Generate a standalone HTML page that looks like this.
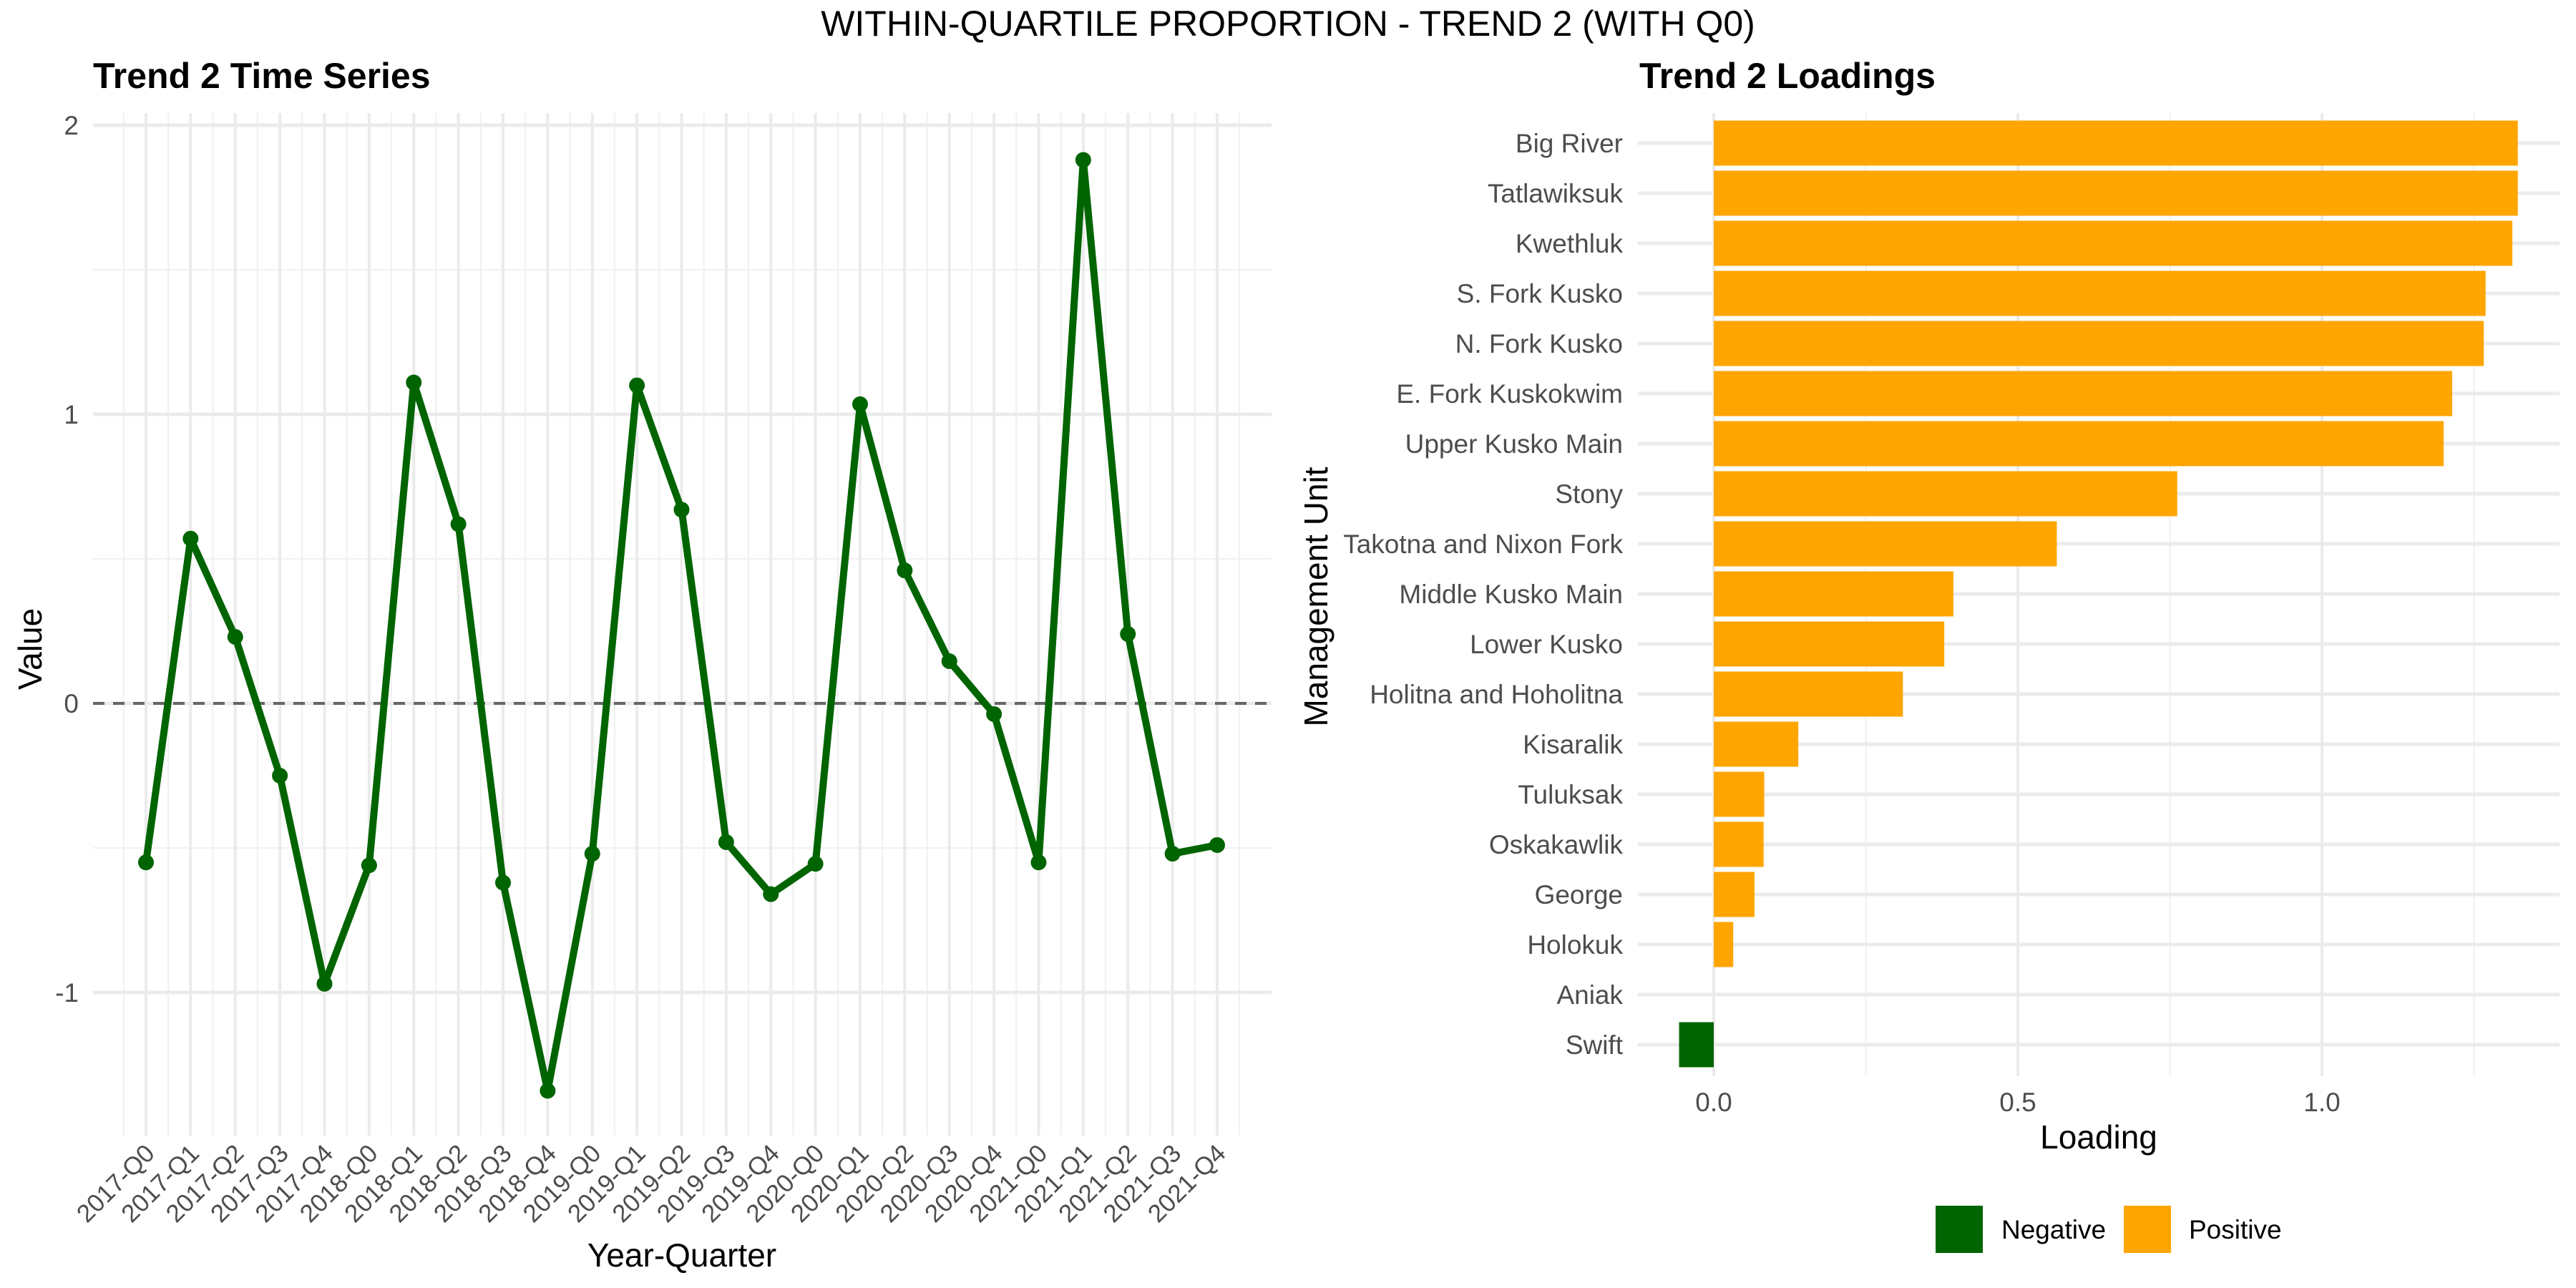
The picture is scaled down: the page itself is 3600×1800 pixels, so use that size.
<!DOCTYPE html>
<html><head><meta charset="utf-8"><style>
html,body{margin:0;padding:0;background:#fff;}
svg{display:block;font-family:"Liberation Sans",sans-serif;}
</style></head><body>
<svg id="chart" width="3600" height="1800" viewBox="0 0 3600 1800">
<text x="1800" y="50" text-anchor="middle" font-size="50" fill="#000">WITHIN-QUARTILE PROPORTION - TREND 2 (WITH Q0)</text>
<text x="130" y="123" font-size="50" font-weight="bold" fill="#000">Trend 2 Time Series</text>
<text x="2291" y="123" font-size="50" font-weight="bold" fill="#000">Trend 2 Loadings</text>
<g id="left"></g>
<g id="right"></g>
</svg>
<script>
const quarters = ["2017-Q0","2017-Q1","2017-Q2","2017-Q3","2017-Q4","2018-Q0","2018-Q1","2018-Q2","2018-Q3","2018-Q4","2019-Q0","2019-Q1","2019-Q2","2019-Q3","2019-Q4","2020-Q0","2020-Q1","2020-Q2","2020-Q3","2020-Q4","2021-Q0","2021-Q1","2021-Q2","2021-Q3","2021-Q4"];
const trendValues = [-0.55,0.57,0.23,-0.25,-0.97,-0.56,1.11,0.62,-0.62,-1.34,-0.52,1.10,0.67,-0.48,-0.66,-0.555,1.035,0.46,0.146,-0.037,-0.55,1.88,0.24,-0.52,-0.49];
const yTicks = [-1,0,1,2];
const units = ["Big River","Tatlawiksuk","Kwethluk","S. Fork Kusko","N. Fork Kusko","E. Fork Kuskokwim","Upper Kusko Main","Stony","Takotna and Nixon Fork","Middle Kusko Main","Lower Kusko","Holitna and Hoholitna","Kisaralik","Tuluksak","Oskakawlik","George","Holokuk","Aniak","Swift"];
const loadings = [1.322,1.322,1.313,1.269,1.266,1.214,1.200,0.762,0.564,0.394,0.379,0.311,0.139,0.083,0.082,0.067,0.032,0,-0.057];
const xTicks = [0,0.5,1.0];
const xTickLabels = ["0.0","0.5","1.0"];

const NS="http://www.w3.org/2000/svg";
function mk(parent,tag,attrs,text){const e=document.createElementNS(NS,tag);for(const k in attrs)e.setAttribute(k,attrs[k]);if(text!==undefined)e.textContent=text;parent.appendChild(e);return e;}

// ---- Left panel ----
const L=document.getElementById('left');
const lx0=130,lx1=1777,ly0=158,ly1=1587;
const xStep=(1701-204)/(quarters.length-1);
const xq=i=>204+i*xStep;
const yv=v=>983-v*404;
for(let i=0;i<=quarters.length;i++){const x=xq(i)-xStep/2;if(x<lx0||x>lx1)continue;
 const g=mk(L,'line',{x1:x,x2:x,y1:ly0,y2:ly1,stroke:'#f0f0f0','stroke-width':2});
 }
for(let v=-1.5;v<=2;v+=1){const y=yv(v);if(y<ly0||y>ly1)continue;
 const g=mk(L,'line',{x1:lx0,x2:lx1,y1:y,y2:y,stroke:'#f0f0f0','stroke-width':2});
 }
quarters.forEach((q,i)=>{const g=mk(L,'line',{x1:xq(i),x2:xq(i),y1:ly0,y2:ly1,stroke:'#ebebeb','stroke-width':4});
 });
yTicks.forEach(v=>{const g=mk(L,'line',{x1:lx0,x2:lx1,y1:yv(v),y2:yv(v),stroke:'#ebebeb','stroke-width':5});
 
 const t=mk(L,'text',{x:110,y:yv(v)+13,'text-anchor':'end','font-size':37,fill:'#4d4d4d'},String(v));
 });
const zl=mk(L,'line',{x1:lx0,x2:lx1,y1:yv(0),y2:yv(0),stroke:'#666','stroke-width':4,'stroke-dasharray':'16,12'});

const pts=trendValues.map((v,i)=>xq(i)+','+yv(v)).join(' ');
const pl=mk(L,'polyline',{points:pts,fill:'none',stroke:'#006400','stroke-width':10,'stroke-linejoin':'round'});

trendValues.forEach((v,i)=>{const c=mk(L,'circle',{cx:xq(i),cy:yv(v),r:11,fill:'#006400'});
 });
quarters.forEach((q,i)=>{const x=xq(i)+14,y=1614;
 const t=mk(L,'text',{x:x,y:y,'text-anchor':'end','font-size':35,fill:'#4d4d4d',transform:`rotate(-45 ${x} ${y})`},q);
 });
const xt=mk(L,'text',{x:953,y:1770,'text-anchor':'middle','font-size':46,fill:'#000'},'Year-Quarter');

const yt=mk(L,'text',{x:58,y:907,'text-anchor':'middle','font-size':46,fill:'#000',transform:'rotate(-90 58 907)'},'Value');


// ---- Right panel ----
const R=document.getElementById('right');
const rx0=2289,rx1=3577,ry0=158,ry1=1504;
const xl=v=>2395+v*850;
const rowStep=70;
const yr=i=>200+i*rowStep;
for(let v=-0.25;v<=1.5;v+=0.5){const x=xl(v);if(x<rx0||x>rx1)continue;
 const g=mk(R,'line',{x1:x,x2:x,y1:ry0,y2:ry1,stroke:'#f0f0f0','stroke-width':2});
 }
xTicks.forEach((v,i)=>{const g=mk(R,'line',{x1:xl(v),x2:xl(v),y1:ry0,y2:ry1,stroke:'#ebebeb','stroke-width':4});
 
 const t=mk(R,'text',{x:xl(v),y:1553,'text-anchor':'middle','font-size':37,fill:'#4d4d4d'},xTickLabels[i]);
 });
units.forEach((u,i)=>{const g=mk(R,'line',{x1:rx0,x2:rx1,y1:yr(i),y2:yr(i),stroke:'#ebebeb','stroke-width':5});
 
 const t=mk(R,'text',{x:2268,y:yr(i)+13,'text-anchor':'end','font-size':37,fill:'#4d4d4d'},u);
 });
const bh=rowStep*0.9;
loadings.forEach((v,i)=>{const x=Math.min(xl(0),xl(v)),w=Math.abs(xl(v)-xl(0));
 const b=mk(R,'rect',{x:x,y:yr(i)-bh/2,width:w,height:bh,fill:v<0?'#006400':'#FFA500'});
 });
const lt=mk(R,'text',{x:2933,y:1605,'text-anchor':'middle','font-size':46,fill:'#000'},'Loading');

const mt=mk(R,'text',{x:1855,y:834,'text-anchor':'middle','font-size':46,fill:'#000',transform:'rotate(-90 1855 834)'},'Management Unit');

const lg=mk(R,'g',{});

const s1=mk(lg,'rect',{x:2705,y:1685,width:66,height:66,fill:'#006400'});

const t1=mk(lg,'text',{x:2797,y:1731,'font-size':37,fill:'#000'},'Negative');

const s2=mk(lg,'rect',{x:2968,y:1685,width:66,height:66,fill:'#FFA500'});

const t2=mk(lg,'text',{x:3059,y:1731,'font-size':37,fill:'#000'},'Positive');

</script>
</body></html>
